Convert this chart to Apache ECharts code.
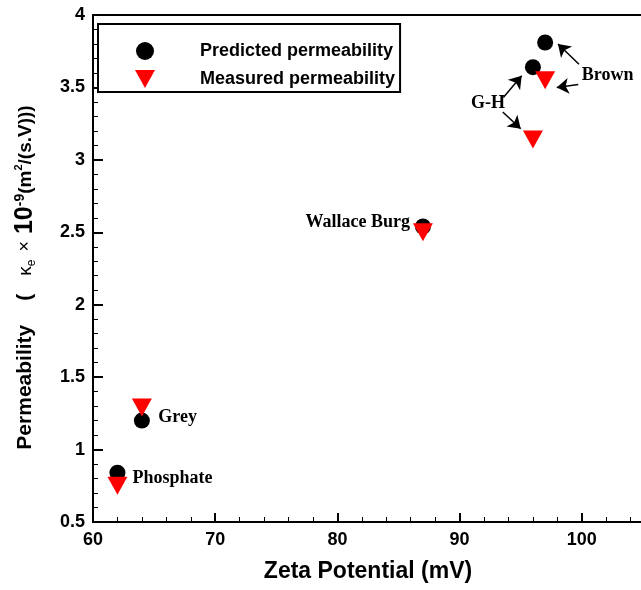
<!DOCTYPE html>
<html>
<head>
<meta charset="utf-8">
<script src="https://cdn.jsdelivr.net/npm/echarts@6/dist/echarts.min.js"></script>
<style>
    * { margin: 0; padding: 0; }
    body { background: #fff; }
</style>
</head>
<body>
<!-- container for the chart -->
<div id="perm" style="width: 641px;height: 590px;"></div>
<script>
    // samples and readings taken from the figure
    var samples = ['Phosphate', 'Grey', 'Wallace Burg', 'G-H', 'Brown'];
    var zeta = [62, 64, 87, 96, 97];
    var predicted = [0.84, 1.2, 2.54, 3.64, 3.81];
    var measured = [0.75, 1.29, 2.5, 3.14, 3.55];
    var xTicks = [60, 70, 80, 90, 100, 110];
    var yTicks = [0.5, 1, 1.5, 2, 2.5, 3, 3.5, 4];

    var labelFont = 'Liberation Sans, Arial, sans-serif';
    var noteFont = 'Liberation Serif, Times New Roman, serif';
    var downTriangle = 'path://M0,0L20,0L10,18Z';

    function pairs(ys) {
        return zeta.map(function (x, i) { return [x, ys[i], samples[i]]; });
    }

    // text notes next to the points (data coords)
    var notes = [
        { value: [63.23, 0.80], name: 'Phosphate', align: 'left' },
        { value: [65.34, 1.22], name: 'Grey', align: 'left' },
        { value: [85.94, 2.57], name: 'Wallace Burg', align: 'right' },
        { value: [92.32, 3.39], name: 'G-H', align: 'center' },
        { value: [100.0, 3.58], name: 'Brown', align: 'left' }
    ];
    var arrows = [
        [[99.77, 3.66], [98.05, 3.80]],
        [[99.71, 3.52], [97.95, 3.50]],
        [[93.58, 3.43], [95.08, 3.58]],
        [[93.53, 3.33], [95.00, 3.215]]
    ];

    var chart = echarts.init(document.getElementById('perm'));
    chart.setOption({
        animation: false,
        grid: {
            left: 93,
            top: 15,
            width: 611,   // runs past the right edge, like the cropped figure
            bottom: 68,
            outerBoundsMode: 'none',
            show: true,
            borderColor: '#000',
            borderWidth: 2
        },
        legend: {
            orient: 'vertical',
            left: 98,
            top: 24,
            data: ['Predicted permeability', 'Measured permeability'],
            itemWidth: 20,
            itemHeight: 18,
            itemGap: 10,
            padding: [18, 5, 4, 37],
            borderColor: '#000',
            borderWidth: 2,
            backgroundColor: '#fff',
            textStyle: {
                fontFamily: labelFont,
                fontWeight: 'bold',
                fontSize: 18,
                color: '#000',
                padding: [0, 0, 0, 40]
            }
        },
        xAxis: {
            type: 'value',
            min: 60,
            max: 110,
            interval: 10,
            name: 'Zeta Potential (mV)',
            nameLocation: 'middle',
            nameGap: 38,
            nameTextStyle: {
                fontFamily: labelFont,
                fontWeight: 'bold',
                fontSize: 23,
                color: '#000',
                padding: [0, 61, 0, 0]
            },
            axisLine: { lineStyle: { color: '#000', width: 2 } },
            axisTick: { inside: true, length: 9, lineStyle: { color: '#000', width: 2 } },
            minorTick: { show: true, splitNumber: 5, length: 5, lineStyle: { color: '#000', width: 1 } },
            splitLine: { show: false },
            axisLabel: {
                margin: 9,
                fontFamily: labelFont,
                fontWeight: 'bold',
                fontSize: 18,
                color: '#000',
                customValues: xTicks
            }
        },
        yAxis: {
            type: 'value',
            min: 0.5,
            max: 4,
            interval: 0.5,
            name: '{b|Permeability}{p|(}{k|κ}{sub|e}{x|×}{ten|10}{sup|-9}{m|(m}{sup2|2}{m|/(s.V)))}',
            nameLocation: 'middle',
            nameGap: 55,
            nameTextStyle: {
                color: '#000',
                padding: [0, 18, 0, 0],
                rich: {
                    b: { fontFamily: labelFont, fontWeight: 'bold', fontSize: 21, color: '#000' },
                    p: { fontFamily: labelFont, fontWeight: 'bold', fontSize: 21, color: '#000', padding: [0, 0, 0, 24] },
                    k: { fontFamily: labelFont, fontSize: 19, color: '#000', padding: [0, 0, 0, 18] },
                    sub: { fontFamily: labelFont, fontSize: 12, color: '#000', verticalAlign: 'bottom', padding: [8, 0, 0, 0] },
                    x: { fontFamily: labelFont, fontSize: 18, color: '#000', padding: [0, 0, 0, 8] },
                    ten: { fontFamily: labelFont, fontWeight: 'bold', fontSize: 25, color: '#000', padding: [0, 0, 0, 7] },
                    sup: { fontFamily: labelFont, fontWeight: 'bold', fontSize: 14, color: '#000', verticalAlign: 'top', padding: [0, 0, 10, 0] },
                    m: { fontFamily: labelFont, fontWeight: 'bold', fontSize: 19, color: '#000' },
                    sup2: { fontFamily: labelFont, fontWeight: 'bold', fontSize: 11, color: '#000', verticalAlign: 'top', padding: [0, 0, 8, 0] }
                }
            },
            axisLine: { lineStyle: { color: '#000', width: 2 } },
            axisTick: { inside: true, length: 10, lineStyle: { color: '#000', width: 2 } },
            minorTick: { show: true, splitNumber: 5, length: 5, lineStyle: { color: '#000', width: 1 } },
            splitLine: { show: false },
            axisLabel: {
                margin: 8,
                fontFamily: labelFont,
                fontWeight: 'bold',
                fontSize: 18,
                color: '#000',
                customValues: yTicks
            }
        },
        series: [
            {
                name: 'Predicted permeability',
                type: 'scatter',
                symbol: 'circle',
                symbolSize: 16,
                itemStyle: { color: '#000', opacity: 1 },
                data: pairs(predicted)
            },
            {
                name: 'Measured permeability',
                type: 'scatter',
                symbol: downTriangle,
                symbolSize: [20, 18],
                itemStyle: { color: '#ff0000', opacity: 1 },
                data: pairs(measured)
            },
            {
                name: 'notes',
                type: 'scatter',
                silent: true,
                symbolSize: 0,
                itemStyle: { opacity: 1 },
                data: notes.map(function (n) {
                    return {
                        value: n.value,
                        name: n.name,
                        label: { align: n.align }
                    };
                }),
                label: {
                    show: true,
                    position: [0, 0],
                    verticalAlign: 'middle',
                    formatter: '{b}',
                    fontFamily: noteFont,
                    fontWeight: 'bold',
                    fontSize: 18,
                    color: '#000'
                },
                markLine: {
                    silent: true,
                    symbol: ['none', 'arrow'],
                    symbolSize: 12,
                    label: { show: false },
                    lineStyle: { color: '#000', width: 1.5, type: 'solid' },
                    data: arrows.map(function (a) {
                        return [{ coord: a[0] }, { coord: a[1] }];
                    })
                }
            }
        ]
    });
</script>
</body>
</html>
